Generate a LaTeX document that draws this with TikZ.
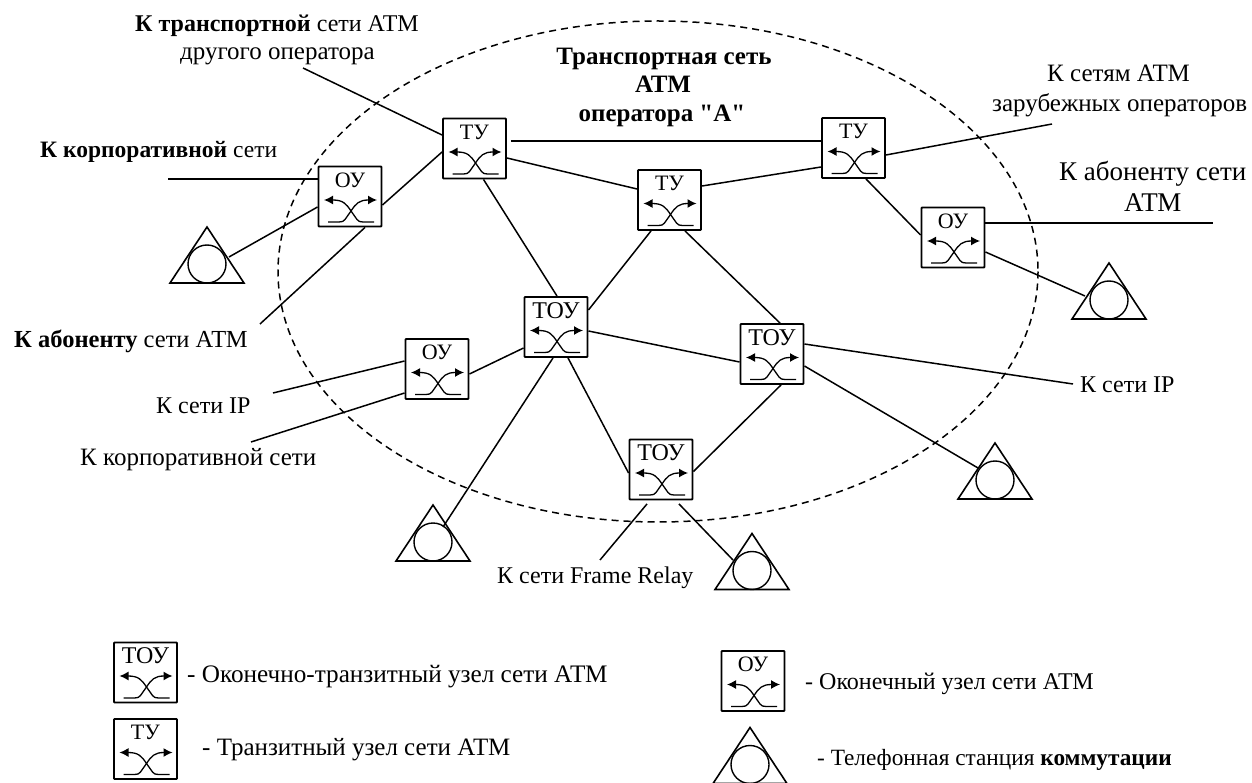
\documentclass[tikz,border=0pt]{standalone}
\usepackage{fontspec}
\setmainfont{Liberation Serif}
\newfontfamily\qf{Liberation Serif}[Ligatures=NoCommon]
\usetikzlibrary{arrows.meta}
\tikzset{
  swbox/.style={draw=black,line width=1.9pt,minimum width=63pt,minimum height=60pt,inner sep=0pt,fill=white,rounded corners=0.8pt},
  swlabel/.style={inner sep=0pt,font=\fontsize{22}{22}\selectfont},
  swline/.style={line width=1.3pt},
  swarrow/.style={line width=1.3pt,-{Latex[length=9pt,width=9pt]}},
  link/.style={line width=1.5pt},
  txt/.style={inner sep=0pt,anchor=base west,font=\fontsize{24}{24}\selectfont},
  txtb/.style={inner sep=0pt,anchor=base west,font=\fontsize{25}{25}\selectfont},
  ctxt/.style={inner sep=0pt,anchor=base,font=\fontsize{25}{25}\selectfont},
  tribox/.style={draw=black,line width=1.6pt,line join=miter},
  circbox/.style={draw=black,line width=1.4pt,circle,minimum size=#1,inner sep=0pt},
  cloudline/.style={line width=1.5pt,dash pattern=on 7pt off 5pt},
}
\newcommand{\toulabel}{{\fontsize{24}{24}\selectfont ТОУ}}
\newcommand{\swnode}[3]{%
  \node[swbox] (#1) at (#2) {};
  \node[swlabel] (#1l) at ([yshift=16.5pt]#1.center) {#3};
  \begin{scope}[shift={(#1.center)}]
    \draw[swarrow] (1,14.5) .. controls (-4,7) and (-7,3.5) .. (-26,3.5);
    \draw[swarrow] (1,14.5) .. controls (6,7) and (9,3.5) .. (27,3.5);
    \draw[swline] (1,14.5) -- (7,23) .. controls (8.5,25) and (10,25.5) .. (13,25.5) -- (24,25.5);
    \draw[swline] (1,14.5) -- (-5,23) .. controls (-6.5,25) and (-8,25.5) .. (-11,25.5) -- (-22,25.5);
  \end{scope}}
\newcommand{\trinode}[2]{% name, centre
  \node[inner sep=0pt,minimum size=0pt] (#1) at (#2) {};
  \begin{scope}[shift={(#1)}]
    \draw[tribox] (0,-28) -- (37,28) -- (-37,28) -- cycle;
  \end{scope}
  \node[circbox=38pt] (#1c) at ([yshift=-9pt]#1) {};}
\begin{document}
\begin{tikzpicture}[x=1pt,y=-1pt]
\useasboundingbox (0,0) rectangle (1252,783);
% cloud
\node[draw=none,inner sep=0pt] (cloud) at (658,271.5) {};
\draw[cloudline] (cloud) ellipse [x radius=380,y radius=250.5];
% free ends
\coordinate (a) at (303,68);
\coordinate (b) at (168,179);
\coordinate (c) at (260,324);
\coordinate (d) at (1052,124);
\coordinate (e) at (1213,223);
\coordinate (f) at (273,393);
\coordinate (g) at (251,442);
\coordinate (h) at (1073,384);
\coordinate (i) at (600,560);
% nodes
\swnode{tua}{474.5,148.5}{ТУ}
\swnode{oua}{350,196.5}{ОУ}
\swnode{tub}{853.5,148}{ТУ}
\swnode{tuc}{669.5,200}{ТУ}
\swnode{oub}{953,237.5}{ОУ}
\swnode{toa}{556,327}{\toulabel}
\swnode{ouc}{437,369}{ОУ}
\swnode{tob}{772,354}{\toulabel}
\swnode{toc}{661,469.5}{\toulabel}
\trinode{ta}{207,255}
\trinode{tb}{1109,291}
\trinode{tc}{995,471}
\trinode{td}{433,533}
\trinode{te}{752,561.5}
% connectors
\draw[link] (a) -- ([yshift=13.5]tua.west);
\draw[link] ([yshift=-3.5]tua.west) -- ([yshift=-8.5]oua.east);
\draw[link] ([xshift=15]oua.south) -- (c);
\draw[link] (b) -- ([yshift=17.5]oua.west);
\draw[link] ([yshift=-10.5]oua.west) -- ([xshift=22,yshift=-2]ta.center);
\draw[link] ([xshift=4,yshift=7.5]tua.east) -- ([yshift=7]tub.west);
\draw[link] ([yshift=-9.5]tua.east) -- ([yshift=11]tuc.west);
\draw[link] ([yshift=14]tuc.east) -- ([yshift=-19]tub.west);
\draw[link] ([yshift=-7]tub.east) -- (d);
\draw[link] ([xshift=12.5]tub.south) -- ([yshift=2.5]oub.west);
\draw[link] ([yshift=14.5]oub.east) -- (e);
\draw[link] ([yshift=-14.5]oub.east) -- ([xshift=-24,yshift=-5]tb.center);
\draw[link] ([xshift=9]tua.south) -- ([xshift=1]toa.north);
\draw[link] ([xshift=-18.5]tuc.south) -- ([yshift=17]toa.east);
\draw[link] ([xshift=15.5]tuc.south) -- ([xshift=8]tob.north);
\draw[link] ([yshift=-21]toa.west) -- ([yshift=-5]ouc.east);
\draw[link] ([yshift=8]ouc.west) -- (f);
\draw[link] ([yshift=-24]ouc.west) -- (g);
\draw[link] ([yshift=-4]toa.east) -- ([yshift=-8]tob.west);
\draw[link] ([yshift=10]tob.east) -- (h);
\draw[link] ([yshift=-12]tob.east) -- ([xshift=-17,yshift=3]tc.center);
\draw[link] ([xshift=9]tob.south) -- ([yshift=-2]toc.east);
\draw[link] ([xshift=12]toa.south) -- ([yshift=-3.5]toc.west);
\draw[link] ([xshift=-3]toa.south) -- ([xshift=10,yshift=6]td.center);
\draw[link] ([xshift=-14,yshift=-3.5]toc.south) -- (i);
\draw[link] ([xshift=18,yshift=-3.5]toc.south) -- ([xshift=-19,yshift=1.5]te.center);
% labels
\node[txt] (l1) at (135,32) {\textbf{К транспортной} сети АТМ};
\node[txtb] (l2) at (180,60) {другого оператора};
\node[ctxt] (l3) at (664,65) {\textbf{Транспортная сеть}};
\node[ctxt] (l4) at (663,93) {\textbf{АТМ}};
\node[ctxt] (l5) at (662,122) {\textbf{оператора {\qf "}А{\qf "}}};
\node[txt,font=\fontsize{23.5}{23.5}\selectfont] (l6) at (40,158) {\textbf{К корпоративной} сети};
\node[txtb] (l7) at (1047,82) {К сетям АТМ};
\node[txtb] (l8) at (992,112) {зарубежных операторов};
\node[txt,font=\fontsize{27}{27}\selectfont] (l9) at (1059,181) {К абоненту сети};
\node[txt,font=\fontsize{27}{27}\selectfont] (l10) at (1124,212) {АТМ};
\node[txt,font=\fontsize{24.5}{24.5}\selectfont] (l11) at (14,347) {\textbf{К абоненту} сети АТМ};
\node[txt] (l12) at (156,413) {К сети IP};
\node[txtb] (l13) at (80,465) {К корпоративной сети};
\node[txt] (l14) at (1080,392) {К сети IP};
\node[txt] (l15) at (497,583) {К сети Frame Relay};
% legend
\swnode{lga}{145.5,672.5}{\toulabel}
\swnode{lgb}{145.5,749}{ТУ}
\swnode{lgc}{753,681}{ОУ}
\trinode{lgd}{750,755.5}
\node[txtb,font=\fontsize{25.2}{25.2}\selectfont] (m1) at (187,682) {- Оконечно-транзитный узел сети АТМ};
\node[txtb] (m2) at (202,755) {- Транзитный узел сети АТМ};
\node[txt] (m3) at (805,689) {- Оконечный узел сети АТМ};
\node[txt,font=\fontsize{23.3}{23.3}\selectfont] (m4) at (817,765) {- Телефонная станция \textbf{коммутации}};
\end{tikzpicture}
\end{document}
